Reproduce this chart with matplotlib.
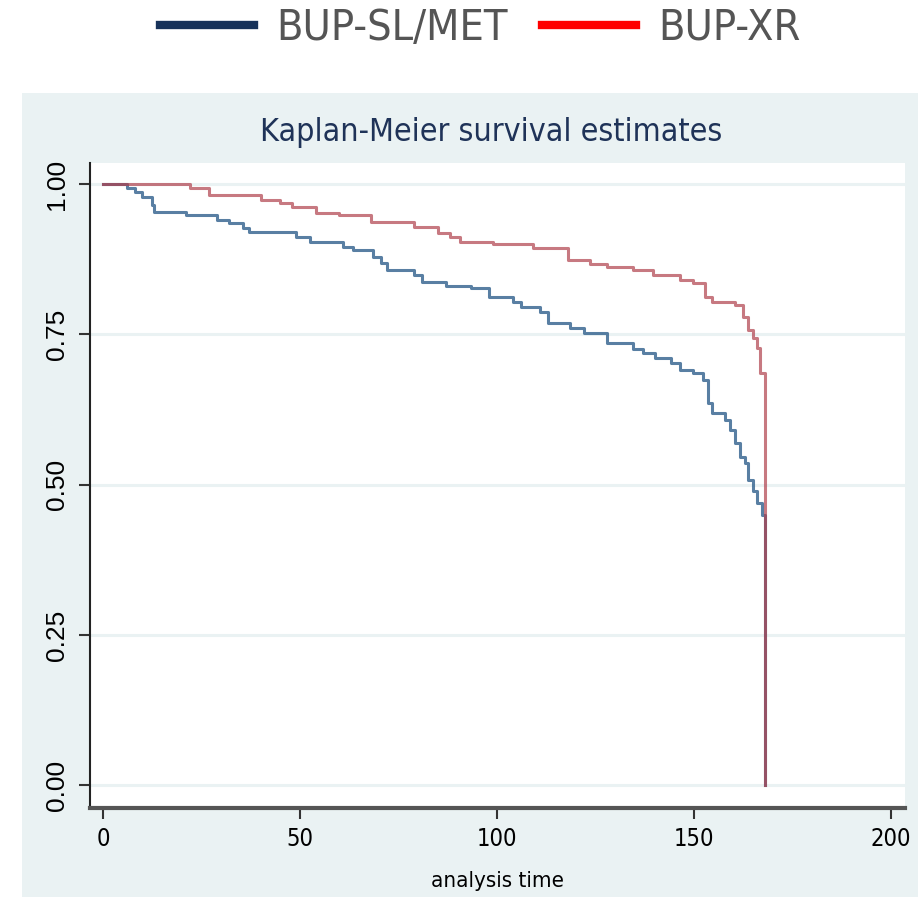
import numpy as np
import matplotlib.pyplot as plt
from matplotlib.lines import Line2D
from matplotlib.patches import Rectangle

# DATA (Kaplan-Meier step points)
blue_label = "BUP-SL/MET"
blue_t = [0, 6, 8, 10, 12.5, 13, 21, 29, 32, 35.5, 37, 49, 52.5, 61, 63.5, 68.5,
          70.5, 72, 79, 81, 87, 93.5, 98, 104, 106, 111, 113, 118.5, 122, 128,
          134.5, 137, 140, 144, 146.5, 149.7, 152.3, 153.6, 154.6, 157.9, 159,
          160.4, 161.7, 162.9, 163.7, 165, 166, 167.3, 168]
blue_s = [1.0, 0.993, 0.987, 0.978, 0.965, 0.953, 0.948, 0.94, 0.935, 0.927, 0.92,
          0.912, 0.903, 0.895, 0.89, 0.878, 0.868, 0.857, 0.849, 0.837, 0.83, 0.827,
          0.812, 0.804, 0.795, 0.787, 0.769, 0.76, 0.752, 0.735, 0.725, 0.719, 0.71,
          0.702, 0.69, 0.686, 0.674, 0.635, 0.619, 0.607, 0.59, 0.569, 0.546, 0.536,
          0.507, 0.49, 0.469, 0.449, 0.0]

red_label = "BUP-XR"
red_t = [0, 22, 27, 40, 45, 48, 54, 60, 68, 79, 85, 88, 90.5, 99, 109, 118, 123.5,
         128, 134.5, 139.6, 146.4, 149.7, 152.8, 154.6, 160.4, 162.4, 163.7, 165,
         166, 166.8, 168]
red_s = [1.0, 0.993, 0.982, 0.973, 0.968, 0.962, 0.952, 0.948, 0.937, 0.928, 0.918,
         0.912, 0.903, 0.90, 0.893, 0.874, 0.867, 0.862, 0.857, 0.849, 0.84, 0.835,
         0.812, 0.804, 0.799, 0.779, 0.757, 0.744, 0.727, 0.686, 0.0]

x_ticks = [0, 50, 100, 150, 200]
y_ticks = [0.00, 0.25, 0.50, 0.75, 1.00]
y_ticklabels = ["0.00", "0.25", "0.50", "0.75", "1.00"]

NARROW = dict(family='DejaVu Sans', stretch='condensed')
STATA_BG = '#eaf2f3'

fig = plt.figure(figsize=(9.23, 9.0), dpi=100)

# stata graph region background
fig.patches.append(Rectangle((22 / 923, 3 / 900), 896 / 923, 804 / 900,
                             transform=fig.transFigure, facecolor=STATA_BG,
                             edgecolor='none', zorder=-5))

ax = fig.add_axes([90 / 923, 92 / 900, 815 / 923, 645 / 900])
ax.set_facecolor('white')

for yv in y_ticks:
    ax.axhline(yv, color=STATA_BG, linewidth=2.2, zorder=1)

ax.step(blue_t, blue_s, where='post', color='#2f5f8c', linewidth=2.2, alpha=0.8, zorder=3)
ax.step(red_t, red_s, where='post', color='#b0404c', linewidth=2.2, alpha=0.7, zorder=4)

ax.set_xlim(-3.3, 203.5)
ax.set_ylim(-0.038, 1.035)

ax.set_xticks(x_ticks)
ax.set_xticklabels([str(v) for v in x_ticks], fontsize=17, **NARROW)
ax.set_yticks(y_ticks)
ax.set_yticklabels(y_ticklabels, rotation=90, va='center', family='Liberation Sans',
                   fontsize=19)
ax.tick_params(axis='both', direction='out', length=8, width=1.5, color='#333333')
ax.tick_params(axis='x', pad=6)
ax.tick_params(axis='y', pad=7)

ax.spines['top'].set_visible(False)
ax.spines['right'].set_visible(False)
ax.spines['left'].set_color('#222222')
ax.spines['left'].set_linewidth(1.5)
ax.spines['bottom'].set_color('#555555')
ax.spines['bottom'].set_linewidth(3)

ax.set_xlabel('analysis time', fontsize=16, labelpad=14, **NARROW)

fig.text(0.532, 1 - 132 / 900, 'Kaplan-Meier survival estimates', ha='center', va='center',
         fontsize=23, color='#1f3358', **NARROW)

handles = [Line2D([], [], color='#17325a', linewidth=6),
           Line2D([], [], color='#ff0000', linewidth=6)]
fig.legend(handles, [blue_label, red_label], loc='center', bbox_to_anchor=(0.52, 0.969),
           ncol=2, frameon=False, prop=dict(size=31, **NARROW),
           labelcolor='#555555', handlelength=2.2, handletextpad=0.5, columnspacing=0.8)

fig.savefig('out.png', dpi=100, facecolor='white')
